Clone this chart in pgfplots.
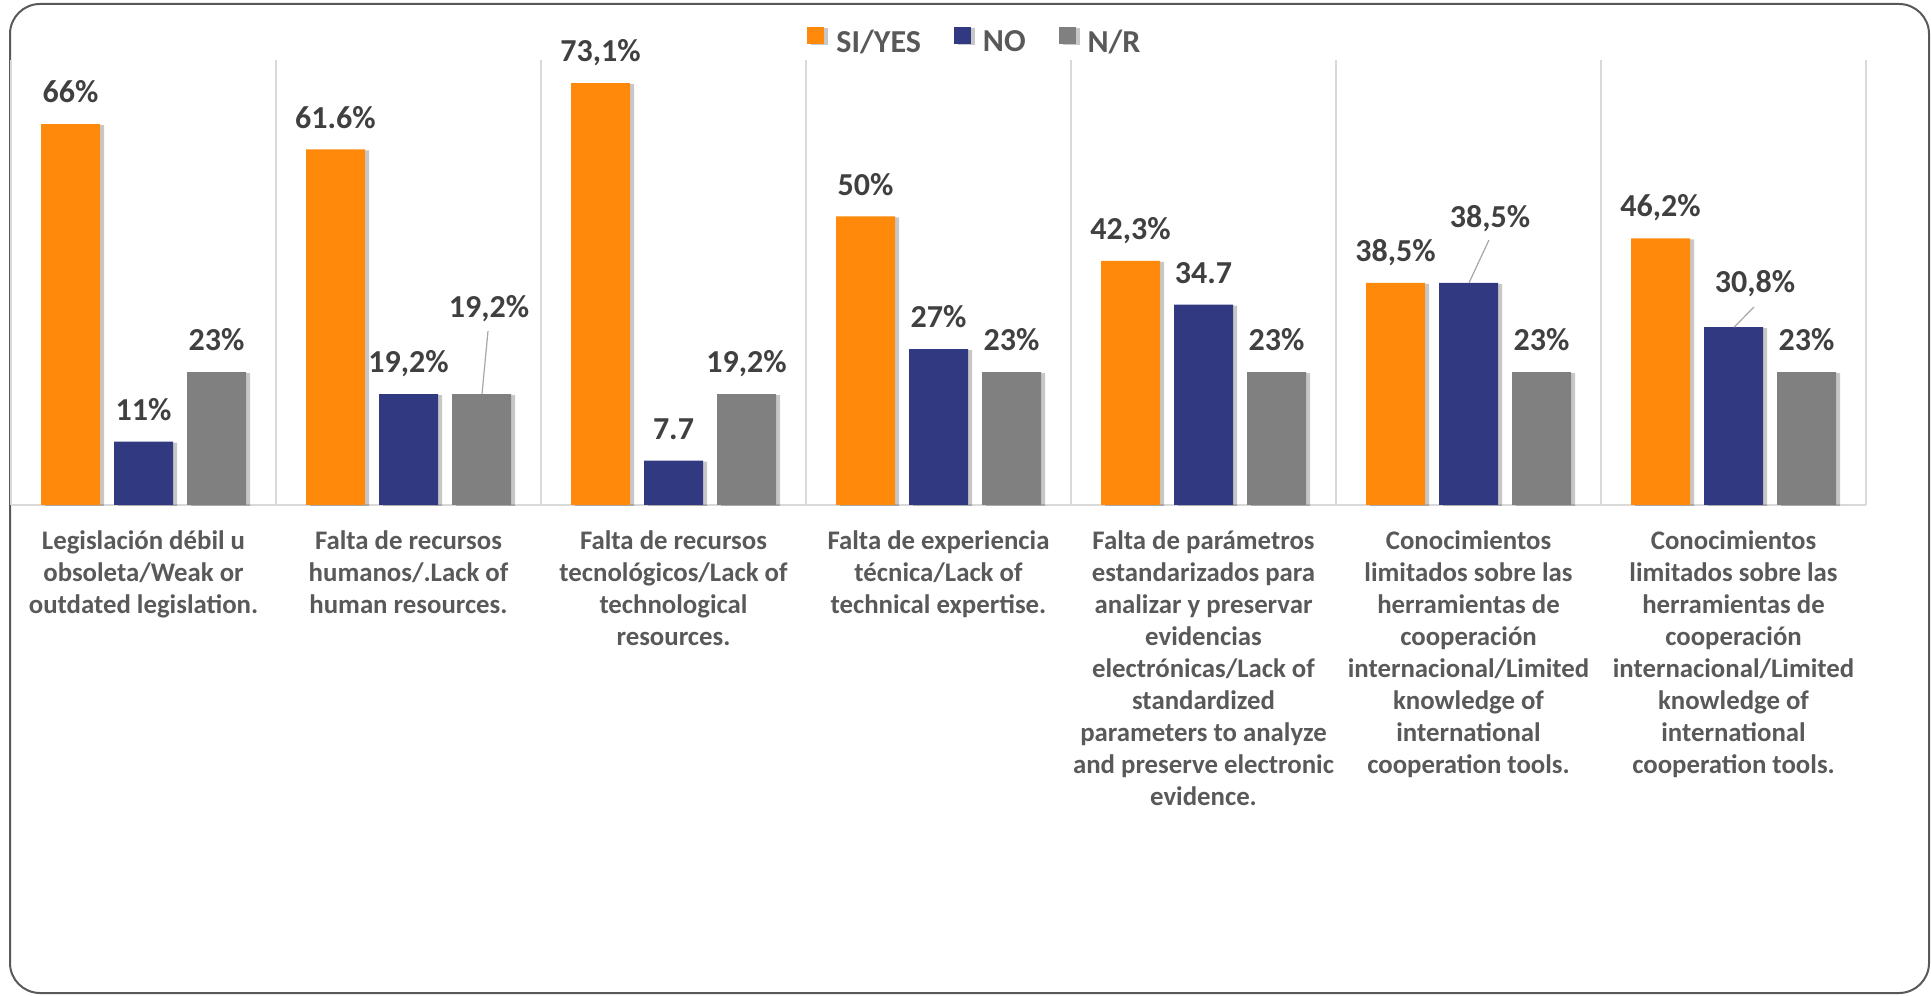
\documentclass[border=0pt]{standalone}
\usepackage{fontspec}
\setmainfont{Carlito}
\usepackage{pgfplots}
\pgfplotsset{compat=1.18}
\usetikzlibrary{shadows}
\definecolor{cOr}{RGB}{255,137,10}
\definecolor{cBl}{RGB}{49,57,128}
\definecolor{cGr}{RGB}{128,128,128}
\definecolor{cLab}{RGB}{64,64,64}
\definecolor{cTxt}{RGB}{89,89,89}
\definecolor{cGrid}{RGB}{217,217,217}
\definecolor{cLead}{RGB}{166,166,166}
\newcommand{\labfont}{\fontsize{16}{19}\selectfont\bfseries}
\begin{document}
\begin{tikzpicture}
\useasboundingbox (0,0) rectangle (965.5pt,497.5pt);
\draw[cTxt, line width=1pt, rounded corners=15pt] (5pt,1pt) rectangle (964.5pt,495.5pt);
\begin{axis}[
  at={(5.5pt,245pt)}, anchor=south west,
  scale only axis, width=927.5pt, height=222.5pt,
  xmin=-0.5, xmax=6.5, ymin=0, ymax=77.1,
  ybar=7pt, bar width=29.5pt,
  axis x line*=bottom, axis y line=none, ytick=\empty,
  x axis line style={cGrid, line width=1.3pt, -},
  xtick={0,...,6}, major tick length=0, minor tick length=0,
  minor xtick={-0.5,0.5,1.5,2.5,3.5,4.5,5.5,6.5}, xminorgrids,
  minor grid style={cGrid, line width=1pt},
  xticklabels={
    {Legislación débil u\\obsoleta/Weak or\\outdated legislation.},
    {Falta de recursos\\humanos/.Lack of\\human resources.},
    {Falta de recursos\\tecnológicos/Lack of\\technological\\resources.},
    {Falta de experiencia\\técnica/Lack of\\technical expertise.},
    {Falta de parámetros\\estandarizados para\\analizar y preservar\\evidencias\\electrónicas/Lack of\\standardized\\parameters to analyze\\and preserve electronic\\evidence.},
    {Conocimientos\\limitados sobre las\\herramientas de\\cooperación\\internacional/Limited\\knowledge of\\international\\cooperation tools.},
    {Conocimientos\\limitados sobre las\\herramientas de\\cooperación\\internacional/Limited\\knowledge of\\international\\cooperation tools.}},
  xticklabel style={anchor=north, yshift=-12.5pt, inner sep=0pt, align=center,
    font=\fontsize{13.4}{16}\selectfont\bfseries, text=cTxt},
  nodes near coords, point meta=explicit symbolic,
  every node near coord/.append style={font=\labfont, text=cLab, inner sep=0pt, text depth=0pt, yshift=10.5pt},
  legend columns=3,
  legend style={at={(0.5202,1.0382)}, anchor=center, draw=none, fill=none, inner sep=0pt,
    font=\labfont, text=cTxt,
    /tikz/every odd column/.append style={column sep=4pt},
    /tikz/every even column/.append style={column sep=14.5pt},
    nodes={inner xsep=2pt}},
  clip=false,
]
\addplot[fill=cOr, draw=none, drop shadow={shadow xshift=2pt, shadow yshift=-0.5pt, opacity=0.22, fill=black},
  legend image code/.code={\fill[cOr] (0pt,-0.5pt) rectangle (8.5pt,8pt);}]
  coordinates {(0,66) [66\%] (1,61.6) [61.6\%] (2,73.1) [{73,1\%}] (3,50) [50\%] (4,42.3) [{42,3\%}] (5,38.5) [{38,5\%}] (6,46.2) [{46,2\%}]};
\addplot[fill=cBl, draw=none, drop shadow={shadow xshift=2pt, shadow yshift=-0.5pt, opacity=0.22, fill=black},
  legend image code/.code={\fill[cBl] (0pt,-0.5pt) rectangle (8.5pt,8pt);}]
  coordinates {(0,11) [11\%] (1,19.2) [{19,2\%}] (2,7.7) [7.7] (3,27) [27\%] (4,34.7) [34.7] (5,38.5) [{}] (6,30.8) [{}]};
\addplot[fill=cGr, draw=none, drop shadow={shadow xshift=2pt, shadow yshift=-0.5pt, opacity=0.22, fill=black},
  legend image code/.code={\fill[cGr] (0pt,-0.5pt) rectangle (8.5pt,8pt);}]
  coordinates {(0,23) [23\%] (1,19.2) [{}] (2,19.2) [{19,2\%}] (3,23) [23\%] (4,23) [23\%] (5,23) [23\%] (6,23) [23\%]};
\legend{SI/YES, NO, N/R}
\node[font=\labfont, text=cLab, anchor=base, inner sep=0pt] at (axis cs:1.304,32.4) {19,2\%};
\draw[cLead, line width=0.6pt] (axis cs:1.300,30.15) -- (axis cs:1.2774,19.23);
\node[font=\labfont, text=cLab, anchor=base, inner sep=0pt] at (axis cs:5.081,48.0) {38,5\%};
\draw[cLead, line width=0.6pt] (axis cs:5.077,45.9) -- (axis cs:5.002,38.5);
\node[font=\labfont, text=cLab, anchor=base, inner sep=0pt] at (axis cs:6.081,36.73) {30,8\%};
\draw[cLead, line width=0.6pt] (axis cs:6.077,34.3) -- (axis cs:6.002,30.8);
\end{axis}
\end{tikzpicture}
\end{document}
